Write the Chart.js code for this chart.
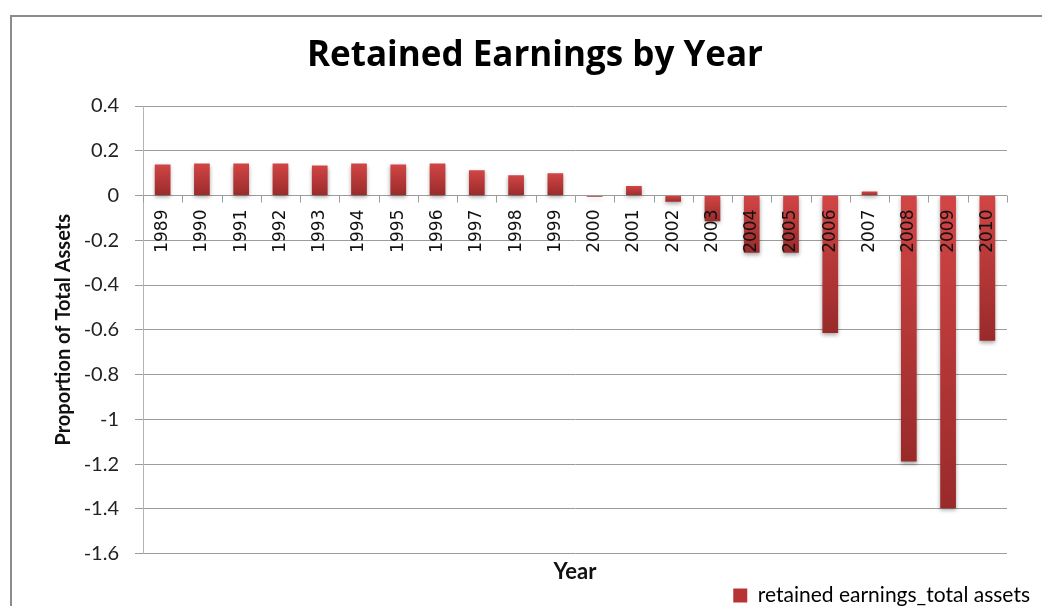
<!DOCTYPE html>
<html>
<head>
<meta charset="utf-8">
<script src="https://cdn.jsdelivr.net/npm/chart.js@4/dist/chart.umd.min.js"></script>
<style>
  html, body { margin: 0; padding: 0; background: #fff; overflow: hidden; }
  #frame { position: absolute; left: 10px; top: 15px; width: 1200px; height: 800px;
           border-left: 2px solid #8c8c8c; border-top: 2px solid #8c8c8c; }
  #wrap { position: absolute; left: 0; top: 0; width: 1042px; height: 616px; }
</style>
</head>
<body>
<div id="frame"></div>
<div id="wrap"><canvas id="chart" width="1042" height="616"></canvas></div>
<script>
const years = ['1989', '1990', '1991', '1992', '1993', '1994', '1995', '1996', '1997', '1998', '1999',
               '2000', '2001', '2002', '2003', '2004', '2005', '2006', '2007', '2008', '2009', '2010'];
const retainedRatio = [0.139, 0.143, 0.143, 0.143, 0.134, 0.143, 0.139, 0.143, 0.113, 0.091, 0.100,
                       -0.005, 0.042, -0.028, -0.115, -0.256, -0.256, -0.614, 0.018, -1.189, -1.397, -0.649];
const yMin = -1.6, yMax = 0.4, yStep = 0.2;

const GRID = '#9c9c9c';

// per-bar vertical gradient, light at the top and dark at the bottom
function barFill(ctx) {
  const chart = ctx.chart, y = chart.scales.y;
  if (!y || ctx.raw == null) return '#b83434';
  const top = y.getPixelForValue(Math.max(ctx.raw, 0));
  const bot = y.getPixelForValue(Math.min(ctx.raw, 0));
  if (!isFinite(top) || !isFinite(bot)) return '#b83434';
  const g = chart.ctx.createLinearGradient(0, top, 0, bot + 0.5);
  g.addColorStop(0, '#d24545');
  g.addColorStop(1, '#992a2a');
  return g;
}

// year labels and tick marks sit on the zero line, like the original
const zeroAxis = {
  id: 'zeroAxis',
  beforeDatasetsDraw(chart) {
    const c = chart.ctx;
    c.save();
    c.shadowColor = 'rgba(0,0,0,0.35)';
    c.shadowBlur = 4;
    c.shadowOffsetY = 2;
  },
  afterDatasetsDraw(chart) {
    const c = chart.ctx, x = chart.scales.x, y = chart.scales.y;
    c.restore();
    const y0 = y.getPixelForValue(0);
    const step = x.getPixelForValue(1) - x.getPixelForValue(0);
    c.save();
    c.strokeStyle = GRID;
    c.lineWidth = 1;
    c.beginPath();
    for (let i = 0; i <= years.length; i++) {
      const px = Math.round(x.getPixelForValue(i) - step / 2) + 0.5;
      c.moveTo(px, y0);
      c.lineTo(px, y0 + 7);
    }
    c.stroke();
    c.fillStyle = '#111';
    c.font = '17px "DejaVu Sans"';
    c.textAlign = 'right';
    c.textBaseline = 'middle';
    years.forEach((lbl, i) => {
      c.save();
      c.translate(x.getPixelForValue(i), y0 + 14);
      c.rotate(-Math.PI / 2);
      c.fillText(lbl, 0, 0);
      c.restore();
    });
    c.restore();
  }
};

new Chart(document.getElementById('chart'), {
  type: 'bar',
  data: {
    labels: years,
    datasets: [{
      label: 'retained earnings_total assets',
      data: retainedRatio,
      backgroundColor: barFill,
      borderWidth: 0,
      barPercentage: 0.4,
      categoryPercentage: 1.0
    }]
  },
  options: {
    responsive: false,
    animation: false,
    layout: { padding: { left: 40, right: 12, top: 0, bottom: 0 } },
    plugins: {
      title: {
        display: true,
        text: 'Retained Earnings by Year',
        color: '#000',
        font: { family: 'Open Sans', size: 35, weight: 'bold' },
        padding: { top: 35, bottom: 29 }
      },
      legend: {
        position: 'bottom',
        align: 'end',
        labels: {
          color: '#404040',
          font: { family: 'Lato', size: 21 },
          boxWidth: 14,
          boxHeight: 14,
          padding: 0,
          generateLabels: chart => [{
            text: chart.data.datasets[0].label,
            fillStyle: '#b83434',
            strokeStyle: '#b83434',
            lineWidth: 0,
            datasetIndex: 0
          }]
        }
      },
      tooltip: { enabled: false }
    },
    scales: {
      x: {
        grid: { display: false },
        border: { display: false },
        ticks: { display: false },
        title: {
          display: true,
          text: 'Year',
          color: '#111',
          font: { family: 'Lato', size: 22, weight: 'bold' },
          padding: { top: -3, bottom: 0 }
        }
      },
      y: {
        min: yMin,
        max: yMax,
        afterFit: s => { s.width = 103; },
        ticks: {
          stepSize: yStep,
          padding: 16,
          color: '#222',
          font: { family: 'Lato', size: 20 },
          callback: v => String(Math.round(v * 10) / 10)
        },
        grid: { color: GRID, tickLength: 8 },
        border: { color: '#b4b4b4' },
        title: {
          display: true,
          text: 'Proportion of Total Assets',
          color: '#111',
          font: { family: 'Lato', size: 20, weight: 'bold' },
          padding: { top: 12, bottom: 0 }
        }
      },
      yR: {
        position: 'right',
        display: true,
        grid: { display: false },
        border: { display: false },
        ticks: { display: false },
        afterFit: s => { s.width = 23; }
      }
    }
  },
  plugins: [zeroAxis]
});
</script>
</body>
</html>
